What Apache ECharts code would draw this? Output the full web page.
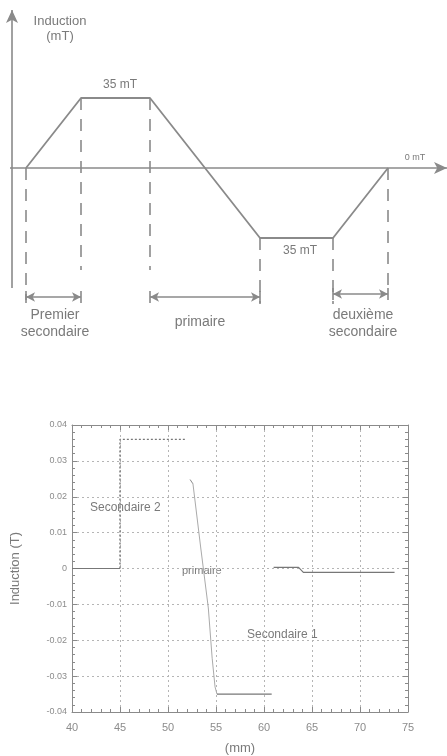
<!DOCTYPE html>
<html lang="fr">
<head>
    <meta charset="UTF-8">
    <title>Induction</title>
    <style>
        * { padding: 0; margin: 0; box-sizing: border-box; }
        html, body, .chart-container { width: 100%; height: 100%; background: #fff; }
    </style>
</head>
<body>
    <div id="chart-container" class="chart-container"></div>
    <script src="https://cdn.jsdelivr.net/npm/echarts@6/dist/echarts.min.js"></script>
    <script>
        // schéma : position (unités arbitraires) et induction (mT)
        const schemX = [14, 69, 138, 248, 321, 376]
        const schemB = [0, 35, 35, -35, -35, 0]
        // bas des pointillés verticaux (mT)
        const dashEnd = [-66, -51, -51, -68, -68, -62]
        // flèches de cote : [début, fin, niveau]
        const spans = [[14, 69, -64.5], [138, 248, -64.5], [321, 376, -63]]

        // mesure : x en mm, induction en T
        const sec2Flat = [[40, 0], [45, 0]]
        const sec2Step = [[45, 0], [45, 0.036], [51.8, 0.036]]
        const primTick = [[52.3, 0.0248], [52.6, 0.0236]]
        const primDrop = [[52.6, 0.0236], [53.4, 0.006], [54.2, -0.011], [54.6, -0.025], [54.9, -0.033], [55.1, -0.035]]
        const primFlat = [[55.1, -0.035], [60.8, -0.035]]
        const sec1 = [[61, 0.0003], [63.6, 0.0003], [64.1, -0.0011], [73.6, -0.0011]]

        const xTicks = [40, 75, 5]
        const yTicks = [-0.04, 0.04, 0.01]

        const gray = '#8a8a8a'
        const txt = '#7a7a7a'
        const font = 'Liberation Sans, Arial, sans-serif'

        var myChart = echarts.init(document.getElementById('chart-container'))

        const trapeze = schemX.map((x, i) => [x, schemB[i]])
        const dashes = schemX.map((x, i) => [{ coord: [x, schemB[i]] }, { coord: [x, dashEnd[i]] }])
        const arrows = spans.map(s => [{ coord: [s[0], s[2]] }, { coord: [s[1], s[2]] }])
        const stops = []
        spans.forEach(s => {
            stops.push([{ coord: [s[0], s[2] + 3] }, { coord: [s[0], s[2] - 3] }])
            stops.push([{ coord: [s[1], s[2] + 3] }, { coord: [s[1], s[2] - 3] }])
        })

        function text(x, y, t, size, align) {
            return {
                type: 'text', x: x, y: y,
                style: { text: t, fill: txt, font: size + 'px ' + font, textAlign: align || 'center', textVerticalAlign: 'middle' }
            }
        }

        const boxTick = { show: true, inside: true, length: 5, lineStyle: { color: gray } }
        const boxMinor = { show: true, splitNumber: 5, length: 3, lineStyle: { color: gray } }
        const dotted = { show: true, lineStyle: { color: '#b5b5b5', type: [2, 3] } }

        var option = {
            backgroundColor: '#fff',
            animation: false,
            grid: [
                { left: 7, top: 10, width: 440, height: 330 },
                { left: 72, top: 425, width: 336, height: 289 }
            ],
            xAxis: [
                { gridIndex: 0, type: 'value', min: -5, max: 435, show: false },
                {
                    gridIndex: 1, type: 'value', min: xTicks[0], max: xTicks[1], interval: xTicks[2],
                    name: '(mm)', nameLocation: 'middle', nameGap: 30,
                    nameTextStyle: { color: txt, fontSize: 13, fontFamily: font },
                    axisLine: { onZero: false, lineStyle: { color: gray } },
                    axisTick: boxTick, minorTick: boxMinor, splitLine: dotted,
                    axisLabel: { color: '#8c8c8c', fontSize: 11, fontFamily: font, margin: 10 }
                },
                {
                    gridIndex: 1, type: 'value', position: 'top', min: xTicks[0], max: xTicks[1], interval: xTicks[2],
                    axisLine: { onZero: false, lineStyle: { color: gray } },
                    axisTick: boxTick, minorTick: boxMinor, splitLine: { show: false }, axisLabel: { show: false }
                }
            ],
            yAxis: [
                { gridIndex: 0, type: 'value', min: -86, max: 79, show: false },
                {
                    gridIndex: 1, type: 'value', min: yTicks[0], max: yTicks[1], interval: yTicks[2],
                    name: 'Induction (T)', nameLocation: 'middle', nameGap: 50,
                    nameTextStyle: { color: txt, fontSize: 13, fontFamily: font },
                    axisLine: { onZero: false, lineStyle: { color: gray } },
                    axisTick: boxTick, minorTick: boxMinor, splitLine: dotted,
                    axisLabel: {
                        color: '#8c8c8c', fontSize: 9, fontFamily: font, margin: 5,
                        formatter: v => Math.abs(v) < 1e-9 ? '0' : v.toFixed(2)
                    }
                },
                {
                    gridIndex: 1, type: 'value', position: 'right', min: yTicks[0], max: yTicks[1], interval: yTicks[2],
                    axisLine: { onZero: false, lineStyle: { color: gray } },
                    axisTick: boxTick, minorTick: boxMinor, splitLine: { show: false }, axisLabel: { show: false }
                }
            ],
            series: [
                // schéma
                {
                    type: 'line', xAxisIndex: 0, yAxisIndex: 0, data: trapeze, symbol: 'none',
                    lineStyle: { color: gray, width: 1.8 },
                    markLine: {
                        silent: true, symbol: 'none', label: { show: false },
                        lineStyle: { color: gray, width: 1.6, type: [12, 9] },
                        data: dashes
                    }
                },
                {
                    type: 'line', xAxisIndex: 0, yAxisIndex: 0, data: [],
                    markLine: {
                        silent: true, symbol: ['none', 'arrow'], symbolSize: [9, 13], label: { show: false },
                        lineStyle: { color: gray, width: 1.6, type: 'solid' },
                        data: [
                            [{ coord: [0, -60] }, { coord: [0, 79] }],
                            [{ coord: [-2, 0] }, { coord: [435, 0] }]
                        ]
                    }
                },
                {
                    type: 'line', xAxisIndex: 0, yAxisIndex: 0, data: [],
                    markLine: {
                        silent: true, symbol: ['arrow', 'arrow'], symbolSize: [7, 9], label: { show: false },
                        lineStyle: { color: gray, width: 1.6, type: 'solid' },
                        data: arrows
                    }
                },
                {
                    type: 'line', xAxisIndex: 0, yAxisIndex: 0, data: [],
                    markLine: {
                        silent: true, symbol: 'none', label: { show: false },
                        lineStyle: { color: gray, width: 1.6, type: 'solid' },
                        data: stops
                    }
                },
                // mesure
                {
                    type: 'line', xAxisIndex: 1, yAxisIndex: 1, data: sec2Flat, symbol: 'none',
                    lineStyle: { color: '#777', width: 1.2 }
                },
                {
                    type: 'line', xAxisIndex: 1, yAxisIndex: 1, data: sec2Step, symbol: 'none',
                    lineStyle: { color: '#777', width: 1.4, type: [2, 2] }
                },
                {
                    type: 'line', xAxisIndex: 1, yAxisIndex: 1, data: primTick, symbol: 'none',
                    lineStyle: { color: '#888', width: 1 }
                },
                {
                    type: 'line', xAxisIndex: 1, yAxisIndex: 1, data: primDrop, symbol: 'none',
                    lineStyle: { color: '#aaa', width: 1 }
                },
                {
                    type: 'line', xAxisIndex: 1, yAxisIndex: 1, data: primFlat, symbol: 'none',
                    lineStyle: { color: '#777', width: 1.3 }
                },
                {
                    type: 'line', xAxisIndex: 1, yAxisIndex: 1, data: sec1, symbol: 'none',
                    lineStyle: { color: '#777', width: 1.2 }
                }
            ],
            graphic: [
                text(60, 21, 'Induction', 13),
                text(60, 36, '(mT)', 13),
                text(120, 85, '35 mT', 12),
                text(415, 158, '0 mT', 9),
                text(300, 251, '35 mT', 12),
                text(55, 315, 'Premier', 14),
                text(55, 332, 'secondaire', 14),
                text(200, 322, 'primaire', 14),
                text(363, 315, 'deuxième', 14),
                text(363, 332, 'secondaire', 14),
                text(90, 508, 'Secondaire 2', 12, 'left'),
                text(182, 571, 'primaire', 11, 'left'),
                text(247, 635, 'Secondaire 1', 12, 'left')
            ]
        }
        myChart.setOption(option)
    </script>
</body>
</html>
